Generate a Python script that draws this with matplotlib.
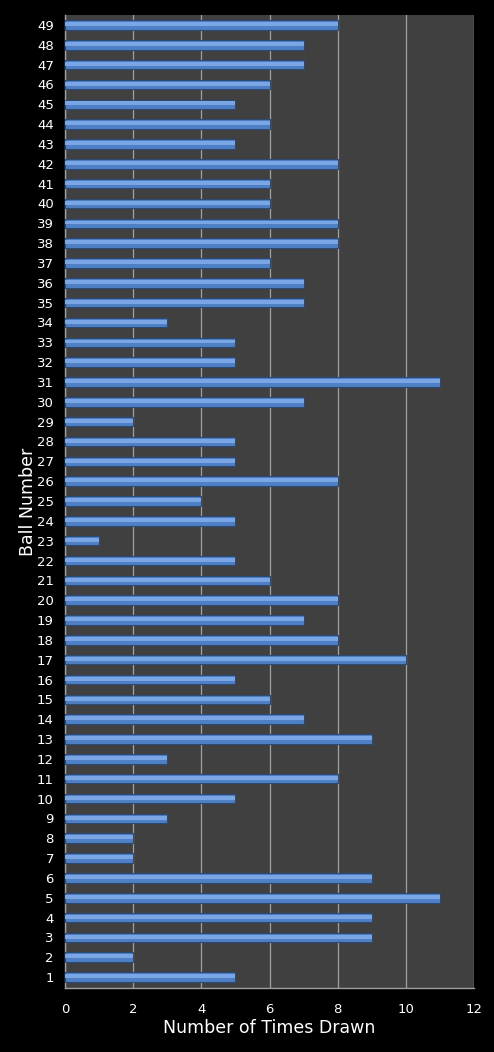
import matplotlib
matplotlib.use("Agg")
import matplotlib.pyplot as plt
import numpy as np

balls = list(range(1, 50))
counts = [5, 2, 9, 9, 11, 9, 2, 2, 3, 5,
          8, 3, 9, 7, 6, 5, 10, 8, 7, 8,
          6, 5, 1, 5, 4, 8, 5, 5, 2, 7,
          11, 5, 5, 3, 7, 7, 6, 8, 8, 6,
          6, 8, 5, 6, 5, 6, 7, 7, 8]
xticks = [0, 2, 4, 6, 8, 10, 12]

fig = plt.figure(figsize=(4.94, 10.52), dpi=100, facecolor="black")
ax = fig.add_axes([65/494, 64/1052, 409/494, 973/1052])
ax.set_facecolor("#404040")

ax.set_xlim(0, 12)
ax.set_ylim(0.45, 49.5)
ax.set_xticks(xticks)
ax.set_yticks(balls)
ax.set_yticklabels([str(b) for b in balls])
ax.grid(axis="x", color="#a0a0a0", linewidth=0.9)
ax.set_axisbelow(True)

# main bar with bevel look
ax.barh(balls, counts, height=0.48, color="#4f7fc4", edgecolor="#2c4a78", linewidth=0.8, zorder=3)
ax.barh(np.array(balls) + 0.04, counts, height=0.2, color="#7aa6e6", linewidth=0, zorder=4)

for s in ["top", "right"]:
    ax.spines[s].set_visible(False)
for s in ["left", "bottom"]:
    ax.spines[s].set_color("#a0a0a0")
    ax.spines[s].set_linewidth(1.0)

ax.tick_params(axis="both", length=0, colors="white", labelsize=9.5)
ax.tick_params(axis="x", pad=11)
ax.tick_params(axis="y", pad=8)
ax.set_xlabel("Number of Times Drawn", color="white", fontsize=12.5, labelpad=2)
ax.set_ylabel("Ball Number", color="white", fontsize=12.5, labelpad=0)

fig.savefig("out.png", dpi=100, facecolor="black")
